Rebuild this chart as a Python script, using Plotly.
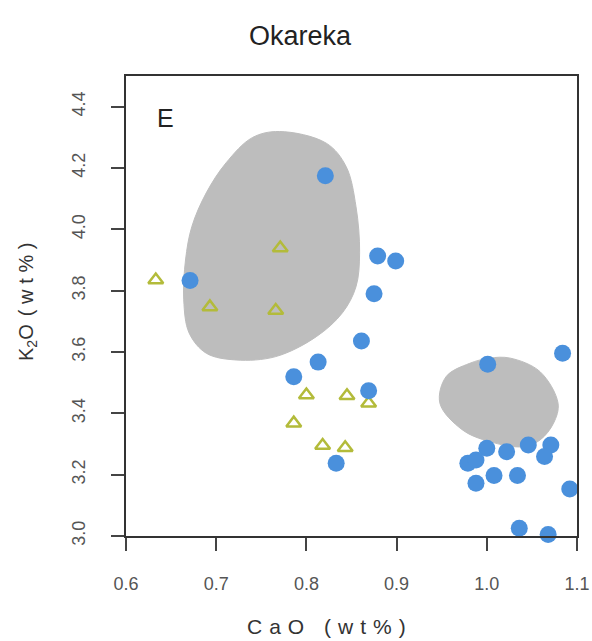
import plotly.graph_objects as go

# Blue circles (glass analyses)
blue_x = [0.821, 0.671, 0.879, 0.899, 0.875, 0.861, 0.813, 0.786, 0.869, 0.833,
          1.084, 1.001, 1.000, 1.022, 1.046, 1.071, 1.064, 0.979, 0.988, 1.008,
          1.034, 0.988, 1.092, 1.036, 1.068]
blue_y = [4.175, 3.833, 3.913, 3.897, 3.790, 3.636, 3.567, 3.519, 3.474, 3.237,
          3.596, 3.560, 3.286, 3.275, 3.297, 3.297, 3.259, 3.237, 3.248, 3.197,
          3.197, 3.172, 3.153, 3.025, 3.005]

# Olive open triangles
tri_x = [0.771, 0.633, 0.693, 0.766, 0.800, 0.845, 0.869, 0.786, 0.818, 0.843]
tri_y = [3.939, 3.835, 3.747, 3.735, 3.460, 3.457, 3.433, 3.368, 3.295, 3.288]

# Grey reference fields (outline vertices)
field1_x = [0.770, 0.822, 0.844, 0.855, 0.859, 0.855, 0.840, 0.811, 0.766, 0.722,
            0.689, 0.670, 0.664, 0.666, 0.673, 0.689, 0.711, 0.740, 0.770]
field1_y = [4.319, 4.281, 4.205, 4.074, 3.923, 3.813, 3.728, 3.650, 3.585, 3.574,
            3.596, 3.662, 3.770, 3.900, 4.009, 4.119, 4.217, 4.299, 4.319]
field2_x = [1.026, 1.059, 1.079, 1.074, 1.059, 1.040, 1.003, 0.973, 0.948, 0.955,
            0.981, 1.003, 1.026]
field2_y = [3.580, 3.536, 3.433, 3.368, 3.313, 3.291, 3.308, 3.346, 3.433, 3.520,
            3.563, 3.580, 3.580]

x_ticks = [0.6, 0.7, 0.8, 0.9, 1.0, 1.1]
x_tick_labels = ["0.6", "0.7", "0.8", "0.9", "1.0", "1.1"]
y_ticks = [3.0, 3.2, 3.4, 3.6, 3.8, 4.0, 4.2, 4.4]
y_tick_labels = ["3.0", "3.2", "3.4", "3.6", "3.8", "4.0", "4.2", "4.4"]

GREY = "#bdbdbd"
BLUE = "#4a90dc"
OLIVE = "#b3bb3a"
FONT = "Liberation Sans, Arial, sans-serif"

W, H = 592, 641
ML, MR, MT, MB = 126, 15, 76, 105
PW, PH = W - ML - MR, H - MT - MB


def px_x(p):
    return (p - ML) / PW


def px_y(p):
    return (H - MB - p) / PH


def spaced(chars, gap):
    return gap.join(chars)


fig = go.Figure()
for fx, fy in [(field1_x, field1_y), (field2_x, field2_y)]:
    fig.add_trace(go.Scatter(x=fx, y=fy, mode="lines", fill="toself",
                             fillcolor=GREY, line=dict(color=GREY, width=1, shape="spline", smoothing=1.0),
                             hoverinfo="skip", showlegend=False))
fig.add_trace(go.Scatter(x=tri_x, y=tri_y, mode="markers", cliponaxis=False,
                         marker=dict(symbol="triangle-up-open", size=13, color=OLIVE,
                                     line=dict(width=2.5, color=OLIVE)),
                         showlegend=False))
fig.add_trace(go.Scatter(x=blue_x, y=blue_y, mode="markers", cliponaxis=False,
                         marker=dict(symbol="circle", size=17, color=BLUE, line=dict(width=0)),
                         showlegend=False))

axis_common = dict(showgrid=False, zeroline=False, showline=True, mirror=True,
                   linecolor="#333333", linewidth=1.5, ticks="outside", ticklen=13,
                   tickwidth=1.5, tickcolor="#444444", automargin=False,
                   tickfont=dict(family=FONT, size=18, color="#555555"))

x_title = spaced(["C", "a", "O", " ", "(", "w", "t", "%", ")"], "\u2004")
y_title = "K<sub>2</sub>O\u2009\u2009" + spaced(["(", "w", "t", "%", ")"], "\u2009\u200a")

fig.update_layout(
    width=W, height=H,
    margin=dict(l=ML, r=MR, t=MT, b=MB, autoexpand=False),
    paper_bgcolor="white", plot_bgcolor="white",
    xaxis=dict(range=[0.6, 1.1], tickvals=x_ticks, ticktext=x_tick_labels,
               ticklabelstandoff=18, **axis_common),
    yaxis=dict(range=[3.0, 4.5], tickvals=y_ticks, ticktext=y_tick_labels,
               tickangle=-90, ticklabelstandoff=19, **axis_common),
    annotations=[
        dict(text="Okareka", x=px_x(300), y=px_y(36), xref="paper", yref="paper",
             xanchor="center", yanchor="middle", showarrow=False,
             font=dict(family=FONT, size=27, color="#222222")),
        dict(text="E", x=0.644, y=4.363, xref="x", yref="y", showarrow=False,
             font=dict(family=FONT, size=25, color="#222222")),
        dict(text=x_title, x=px_x(326), y=px_y(626), xref="paper", yref="paper",
             xanchor="center", yanchor="middle", showarrow=False,
             font=dict(family=FONT, size=21, color="#333333")),
        dict(text=y_title, x=px_x(27), y=px_y(302), xref="paper", yref="paper",
             xanchor="center", yanchor="middle", textangle=-90, showarrow=False,
             font=dict(family=FONT, size=20, color="#333333")),
    ],
)

fig.write_html("out.html")
